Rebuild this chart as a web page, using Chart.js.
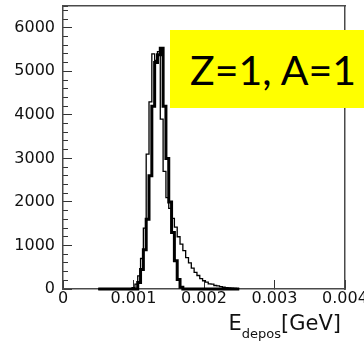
<!DOCTYPE html>
<html>
<head>
<meta charset="utf-8">
<script src="https://cdn.jsdelivr.net/npm/chart.js@4"></script>
<style>
  html, body { margin: 0; padding: 0; background: #fff; overflow: hidden; }
  #wrap { position: relative; width: 364px; height: 343px; overflow: hidden; }
  #chart { position: absolute; left: 0; top: 0; }
  #tag {
    position: absolute; left: 170px; top: 30px; width: 194px; height: 78px;
    background: #ffff00; color: #000;
    font-family: Lato, "Open Sans", sans-serif; font-size: 41px;
    line-height: 80px; white-space: nowrap; padding-left: 20px; box-sizing: border-box;
  }
</style>
</head>
<body>
<div id="wrap">
  <canvas id="chart" width="410" height="343"></canvas>
  <div id="tag">Z=1, A=1</div>
</div>
<script>
// histogram binning: 50 bins from 0.0005 to 0.0025 GeV
const binLow = 0.0005;
const binWidth = 0.00004;

// thick line (narrow peak)
const thickCounts = [
  0, 0, 0, 0, 0, 0, 0, 0, 0, 0,
  0, 0, 0, 0, 150, 450, 900, 1600, 2600, 4200,
  5200, 5380, 5530, 4200, 3000, 2000, 1300, 650, 220, 40,
  0, 0, 0, 0, 0, 0, 0, 0, 0, 0,
  0, 0, 0, 0, 0, 0, 0, 0, 0, 0,
];

// thin line (with high-energy tail)
const thinCounts = [
  0, 0, 0, 0, 0, 0, 0, 0, 0, 0,
  0, 0, 30, 110, 300, 700, 1400, 3100, 4300, 5400,
  5250, 5450, 3900, 2700, 2100, 1850, 1620, 1420, 1200, 1030,
  880, 720, 600, 480, 380, 310, 240, 190, 160, 120,
  110, 80, 70, 55, 40, 30, 25, 20, 15, 10,
];

const xTickValues = [0, 0.001, 0.002, 0.003, 0.004];
const xTickLabels = ["0", "0.001", "0.002", "0.003", "0.004"];
const yTickValues = [0, 1000, 2000, 3000, 4000, 5000, 6000];
const yTickLabels = ["0", "1000", "2000", "3000", "4000", "5000", "6000"];

const FRAME = "#4a4a4a";
const TICK = "#333";
const tickFont = { family: "DejaVu Sans", size: 16 };

function toSteps(counts) {
  const pts = counts.map((c, i) => ({ x: binLow + i * binWidth, y: c }));
  pts.push({ x: binLow + counts.length * binWidth, y: counts[counts.length - 1] });
  return pts;
}

function noPad(s) {
  s.paddingTop = 0; s.paddingBottom = 0; s.paddingLeft = 0; s.paddingRight = 0;
}

// x-axis title with subscript
const titlePlugin = {
  id: "xtitle",
  afterDraw(chart) {
    const ctx = chart.ctx;
    const right = chart.chartArea.right - 4;
    const base = 330;
    ctx.save();
    ctx.fillStyle = "#111";
    ctx.textBaseline = "alphabetic";
    ctx.font = "21px 'DejaVu Sans'";
    const wE = ctx.measureText("E").width;
    const wG = ctx.measureText("[GeV]").width;
    ctx.font = "13px 'DejaVu Sans'";
    const wD = ctx.measureText("depos").width;
    let x = right - (wE + wD + wG);
    ctx.font = "21px 'DejaVu Sans'";
    ctx.fillText("E", x, base);
    x += wE;
    ctx.font = "13px 'DejaVu Sans'";
    ctx.fillText("depos", x, base + 8);
    x += wD;
    ctx.font = "21px 'DejaVu Sans'";
    ctx.fillText("[GeV]", x, base);
    ctx.restore();
  },
};

new Chart(document.getElementById("chart"), {
  type: "line",
  data: {
    datasets: [
      {
        label: "thick",
        data: toSteps(thickCounts),
        xAxisID: "x",
        yAxisID: "y",
        borderColor: "#000",
        borderWidth: 3,
        stepped: "before",
        pointRadius: 0,
        fill: false,
        clip: 6,
      },
      {
        label: "thin",
        data: toSteps(thinCounts),
        xAxisID: "x",
        yAxisID: "y",
        borderColor: "#000",
        borderWidth: 1.3,
        stepped: "before",
        pointRadius: 0,
        fill: false,
        clip: 6,
      },
    ],
  },
  options: {
    responsive: false,
    animation: false,
    devicePixelRatio: 1,
    layout: { padding: { top: 6, right: 65, bottom: 0, left: 0 } },
    plugins: { legend: { display: false }, tooltip: { enabled: false } },
    scales: {
      x: {
        type: "linear",
        position: "bottom",
        bounds: "data",
        min: 0,
        max: 0.004,
        grid: { drawOnChartArea: false, tickLength: -9, color: TICK, lineWidth: 1 },
        border: { color: FRAME, width: 1.5 },
        ticks: {
          autoSkip: false,
          maxRotation: 0,
          padding: 9,
          color: "#111",
          font: tickFont,
          callback: (v, i) => xTickLabels[i],
        },
        afterBuildTicks: (s) => { s.ticks = xTickValues.map((v) => ({ value: v })); },
        afterFit: (s) => { s.height = 54; noPad(s); },
      },
      xTop: {
        type: "linear",
        position: "top",
        bounds: "data",
        min: 0,
        max: 0.004,
        grid: { display: false },
        border: { color: FRAME, width: 1.5 },
        ticks: { display: false },
        afterFit: (s) => { s.height = 0; noPad(s); },
      },
      y: {
        type: "linear",
        position: "left",
        bounds: "data",
        weight: 1,
        min: 0,
        max: 6500,
        grid: { drawOnChartArea: false, tickLength: -9, color: TICK, lineWidth: 1 },
        border: { color: FRAME, width: 1.5 },
        ticks: {
          autoSkip: false,
          padding: 17,
          color: "#111",
          font: tickFont,
          callback: (v, i) => yTickLabels[i],
        },
        afterBuildTicks: (s) => { s.ticks = yTickValues.map((v) => ({ value: v })); },
        afterFit: (s) => { s.width = 63; noPad(s); },
      },
      yMinor: {
        type: "linear",
        position: "left",
        bounds: "data",
        weight: 0,
        min: 0,
        max: 6500,
        grid: { drawOnChartArea: false, tickLength: -5, color: TICK, lineWidth: 1 },
        border: { display: false },
        ticks: { display: false, stepSize: 200, includeBounds: false, autoSkip: false, maxTicksLimit: 100 },
        afterFit: (s) => { s.width = 0; noPad(s); },
      },
      yRight: {
        type: "linear",
        position: "right",
        bounds: "data",
        min: 0,
        max: 6500,
        grid: { display: false },
        border: { color: FRAME, width: 1.5 },
        ticks: { display: false },
        afterFit: (s) => { s.width = 0; noPad(s); },
      },
    },
  },
  plugins: [titlePlugin],
});
</script>
</body>
</html>
